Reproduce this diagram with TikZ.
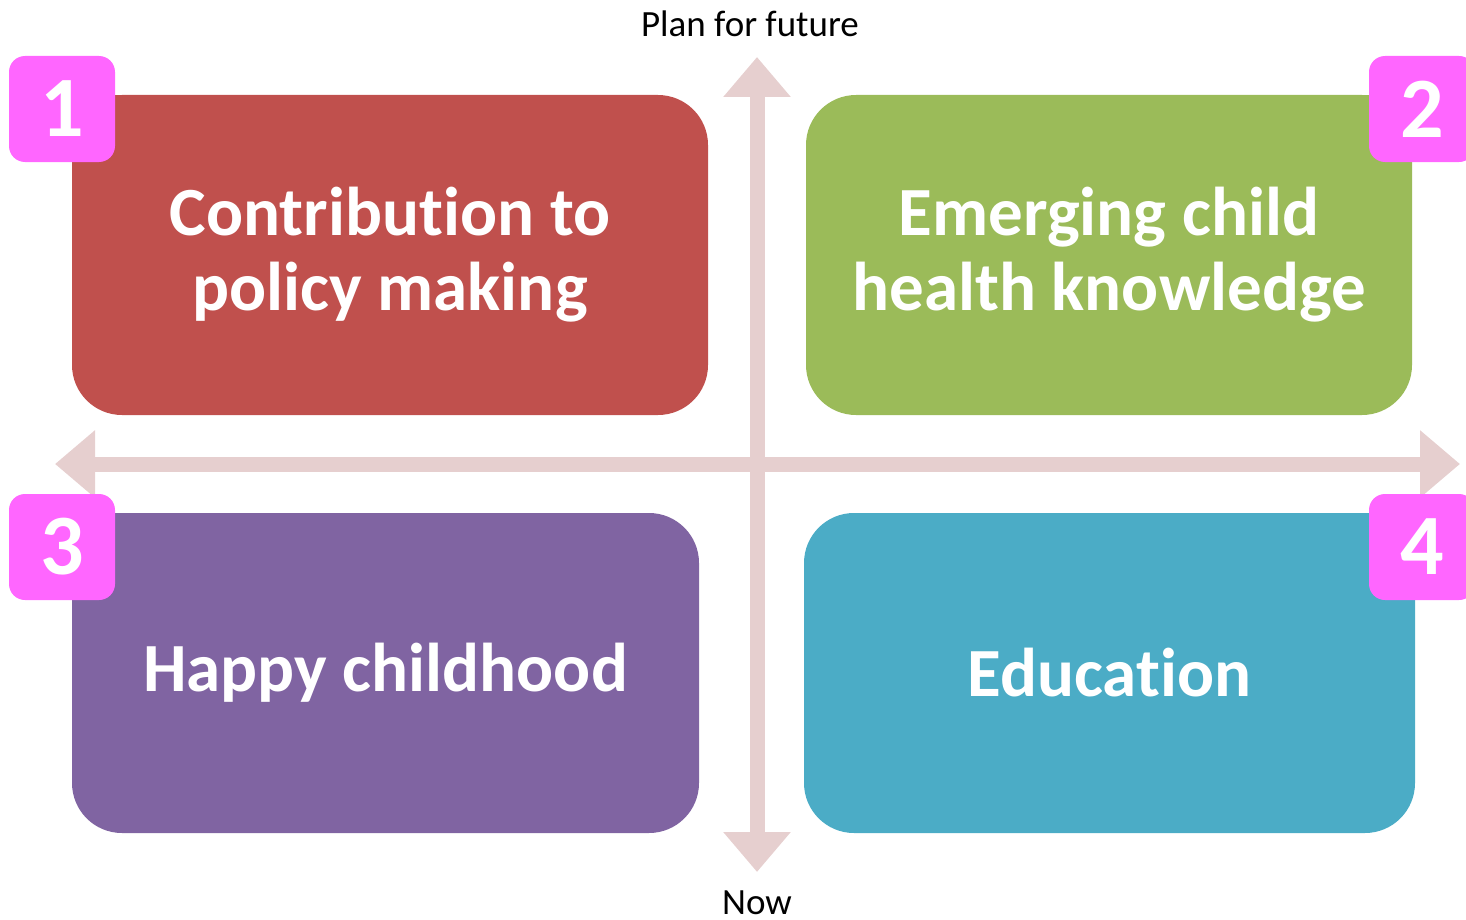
\documentclass[tikz,border=0pt]{standalone}
\usepackage{fontspec}
\setmainfont[Ligatures=NoCommon]{Carlito}
\usetikzlibrary{arrows.meta,positioning}
\definecolor{boxred}{HTML}{C0504D}
\definecolor{boxgreen}{HTML}{9BBB59}
\definecolor{boxpurple}{HTML}{8064A2}
\definecolor{boxteal}{HTML}{4BACC6}
\definecolor{badgepink}{HTML}{FF66FF}
\definecolor{axispink}{HTML}{E6CFCF}

\begin{document}
\begin{tikzpicture}[x=0.5pt,y=-0.5pt,
        quad/.style={rounded corners=25pt,minimum height=160pt,inner sep=0pt,
                     text=white,align=center,font=\fontsize{34.5}{37.5}\selectfont\bfseries},
        badge/.style={fill=badgepink,rounded corners=8pt,minimum width=53pt,minimum height=53pt,
                      inner sep=0pt,text=white,font=\fontsize{43}{43}\selectfont\bfseries},
        axis/.style={draw=axispink,line width=7.5pt,
                     {Triangle[length=20pt,width=32.5pt]}-{Triangle[length=20pt,width=32.5pt]}},
        caption/.style={font=\fontsize{18.5}{21}\selectfont}]

\useasboundingbox (0,0) rectangle (1466,920);

% the two axes
\coordinate (up) at (757,57);
\coordinate (down) at (757,872);
\coordinate (west) at (55,464);
\coordinate (east) at (1460,464);
\draw[axis] (down) -- (up);
\draw[axis] (west) -- (east);

\node (plan) [caption] at (750,24) {Plan for future};
\node (now) [caption] at (757,903) {Now};

% the four quadrants
\node (policy) [quad,fill=boxred,minimum width=318pt] at (390,255) {Contribution to\\policy making};
\fill[boxred] (policy.north west) rectangle ++(60,60);
\node (health) [quad,fill=boxgreen,minimum width=303pt] at (1109,255) {Emerging child\\health knowledge};
\fill[boxgreen] (health.north east) rectangle ++(-60,60);
\node (happy) [quad,fill=boxpurple,minimum width=313.5pt] at (385.5,673) {Happy childhood};
\fill[boxpurple] (happy.north west) rectangle ++(60,60);
\node (school) [quad,fill=boxteal,minimum width=305.5pt] at (1109.5,673) {Education};
\fill[boxteal] (school.north east) rectangle ++(-60,60);

% numbers
\node (one) [badge] at (62,109) {1};
\node (two) [badge] at (1422,109) {2};
\node (three) [badge] at (62,547) {3};
\node (four) [badge] at (1422,547) {4};

\end{tikzpicture}
\end{document}
